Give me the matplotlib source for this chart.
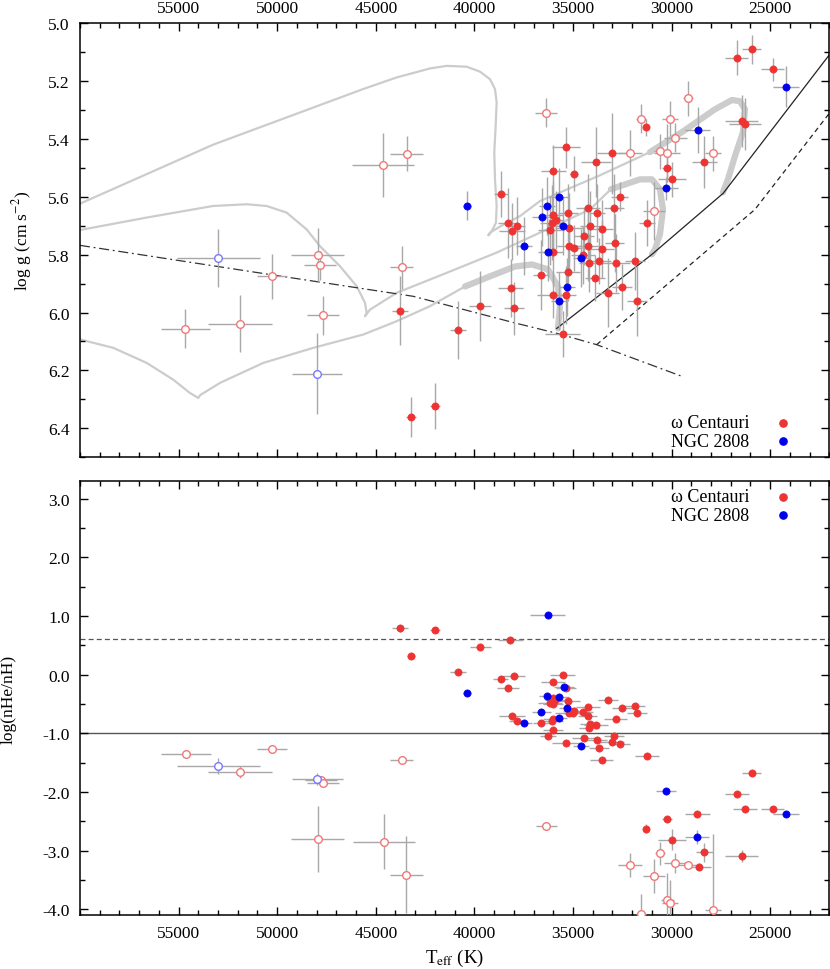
import matplotlib
matplotlib.use("Agg")
import matplotlib.pyplot as plt
from matplotlib.ticker import MultipleLocator, FixedLocator, FormatStrFormatter

plt.rcParams['font.family'] = ['Liberation Serif', 'DejaVu Serif']
plt.rcParams['mathtext.fontset'] = 'stix'
plt.rcParams['font.size'] = 12.5

# ======================================================================
# upper panel : Teff / log g
# omega Cen, filled
wc_teff_g = [26700, 25940, 24870, 31310, 26450, 26280, 35350, 33010, 28340, 33820,
             36000, 34950, 30220, 29960, 38650, 32630, 35240, 34240, 33780, 32920,
             36030, 35880, 36080, 38310, 37840, 38080, 35200, 34120, 33550, 31260,
             36170, 34440, 35190, 34950, 34260, 32890, 33530, 36000, 34480, 34170,
             33670, 32820, 31860, 36640, 35240, 33870, 38160, 32500, 33240, 36010,
             35360, 31760, 39700, 37980, 35520, 40820, 41980, 43220, 43770]
wc_logg = [5.12, 5.09, 5.16, 5.36, 5.34, 5.35, 5.43, 5.45, 5.48, 5.48,
           5.51, 5.52, 5.50, 5.54, 5.59, 5.60, 5.655, 5.64, 5.655, 5.64,
           5.664, 5.68, 5.69, 5.69, 5.70, 5.72, 5.707, 5.70, 5.712, 5.69,
           5.716, 5.736, 5.769, 5.776, 5.771, 5.761, 5.782, 5.79, 5.80, 5.83,
           5.822, 5.83, 5.822, 5.87, 5.861, 5.881, 5.916, 5.911, 5.931, 5.939,
           5.941, 5.961, 5.977, 5.986, 6.073, 6.061, 6.322, 6.361, 5.993]
wc_dteff_g = [590, 500, 590, 150, 830, 830, 710, 790, 640, 770,
              630, 200, 250, 710, 350, 420, 500, 600, 400, 500,
              500, 400, 600, 500, 400, 650, 700, 500, 600, 400,
              600, 500, 600, 400, 700, 500, 600, 500, 600, 500,
              600, 700, 500, 400, 600, 500, 650, 500, 600, 800,
              500, 500, 560, 500, 900, 420, 250, 250, 420]
wc_dlogg = [0.06, 0.05, 0.04, 0.03, 0.09, 0.09, 0.07, 0.14, 0.09, 0.12,
            0.09, 0.06, 0.05, 0.06, 0.08, 0.05, 0.10, 0.12, 0.10, 0.12,
            0.12, 0.10, 0.13, 0.12, 0.10, 0.10, 0.12, 0.12, 0.10, 0.08,
            0.12, 0.10, 0.10, 0.08, 0.12, 0.10, 0.10, 0.12, 0.10, 0.10,
            0.08, 0.10, 0.10, 0.12, 0.10, 0.08, 0.10, 0.08, 0.12, 0.08,
            0.10, 0.12, 0.12, 0.09, 0.08, 0.10, 0.08, 0.07, 0.12]

# omega Cen, open
wco_teff_g = [44620, 43430, 50260, 47950, 47830, 43690, 54660, 51890, 47680, 36370,
              31550, 30080, 29150, 29810, 32110, 30600, 30220, 27890, 30910]
wco_logg = [5.49, 5.451, 5.875, 5.80, 5.836, 5.844, 6.056, 6.038, 6.01, 5.31,
            5.33, 5.33, 5.26, 5.397, 5.45, 5.443, 5.45, 5.45, 5.65]
wco_dteff_g = [1570, 845, 780, 1350, 810, 590, 1250, 1630, 810, 540,
               250, 420, 250, 590, 590, 300, 670, 420, 560]
wco_dlogg = [0.11, 0.06, 0.078, 0.093, 0.05, 0.075, 0.068, 0.10, 0.066, 0.05,
             0.05, 0.06, 0.06, 0.05, 0.08, 0.06, 0.10, 0.06, 0.10]

# NGC 2808, filled
n28_teff_g = [24200, 28680, 30280, 35700, 40390, 36300, 36590, 35490, 37490, 36270,
              34580, 35290, 35700]
n28_logg = [5.22, 5.37, 5.571, 5.60, 5.631, 5.631, 5.671, 5.70, 5.771, 5.791,
            5.812, 5.912, 5.961]
n28_dteff_g = [680, 620, 590, 500, 200, 400, 500, 400, 400, 500, 400, 400, 400]
n28_dlogg = [0.07, 0.08, 0.04, 0.10, 0.05, 0.10, 0.10, 0.10, 0.10, 0.10, 0.10, 0.10, 0.10]

# NGC 2808, open
n28o_teff_g = [52990, 47980]
n28o_logg = [5.811, 6.211]
n28o_dteff_g = [2110, 1290]
n28o_dlogg = [0.10, 0.14]

# ======================================================================
# lower panel : Teff / log(nHe/nH)
wc_teff_he = [41980, 38180, 39700, 43770, 43200, 40820, 38650, 37990, 38310, 35520,
              36010, 35355, 33240, 32500, 31860, 31770, 38080, 36030, 35900, 36170,
              36000, 35240, 34930, 34980, 35200, 34480, 34230, 34260, 37840, 36640,
              36080, 36000, 32840, 34120, 33830, 34170, 36030, 36270, 34460, 33780,
              32920, 33010, 32630, 35355, 33670, 33545, 31250, 25940, 26680, 26280,
              24870, 28700, 30220, 31310, 29960, 28340, 26450, 28600]
wc_he = [0.767, 0.59, 0.477, 0.794, 0.317, 0.045, -0.08, -0.023, -0.22, 0.0,
         -0.119, -0.222, -0.426, -0.563, -0.54, -0.654, -0.70, -0.404, -0.432, -0.477,
         -0.494, -0.45, -0.614, -0.659, -0.659, -0.63, -0.552, -0.71, -0.796, -0.83,
         -0.79, -0.75, -0.762, -0.847, -0.864, -0.91, -0.949, -1.046, -1.085, -1.115,
         -1.046, -1.142, -1.176, -1.159, -1.256, -1.449, -1.392, -1.677, -2.04, -2.29,
         -2.296, -2.37, -2.466, -2.625, -2.819, -3.03, -3.097, -3.279]
wc_dteff_he = [250, 630, 530, 420, 200, 420, 380, 550, 550, 630,
               600, 500, 500, 500, 500, 500, 650, 400, 500, 600,
               500, 600, 600, 500, 700, 500, 600, 500, 400, 400,
               600, 500, 600, 500, 600, 500, 500, 400, 600, 500,
               500, 600, 500, 700, 500, 600, 600, 500, 590, 600,
               590, 640, 250, 150, 710, 420, 830, 600]
wc_dhe = [0.05, 0.03, 0.03, 0.06, 0.03, 0.03, 0.03, 0.05, 0.03, 0.03,
          0.05, 0.03, 0.03, 0.03, 0.03, 0.03, 0.03, 0.03, 0.03, 0.03,
          0.03, 0.03, 0.03, 0.03, 0.03, 0.03, 0.03, 0.03, 0.03, 0.03,
          0.03, 0.03, 0.03, 0.03, 0.03, 0.03, 0.03, 0.03, 0.03, 0.03,
          0.05, 0.03, 0.03, 0.03, 0.03, 0.03, 0.03, 0.03, 0.05, 0.05,
          0.03, 0.05, 0.05, 0.07, 0.18, 0.16, 0.10, 0.06]

wco_teff_he = [54640, 51900, 50260, 47800, 47690, 43690, 47950, 44600, 43450, 36350,
               30600, 32110, 29810, 29150, 30910, 30220, 30080, 31550, 27890]
wco_he = [-1.358, -1.654, -1.273, -1.80, -1.85, -1.449, -2.80, -2.846, -3.409, -2.58,
          -3.046, -3.25, -3.22, -3.245, -3.432, -3.84, -3.898, -4.085, -4.01]
wco_dteff_he = [1270, 1630, 780, 810, 810, 590, 1350, 1570, 845, 530,
                250, 590, 590, 500, 560, 330, 420, 250, 420]
wco_dhe = [0.05, 0.10, 0.05, 0.08, 0.05, 0.05, 0.56, 0.47, 0.65, 0.07,
           0.20, 0.21, 0.17, 0.07, 0.29, 0.45, 0.40, 0.35, 1.30]

n28_teff_he = [36280, 40390, 36300, 35700, 35470, 35290, 36600, 37490, 35700, 34580,
               30280, 24200, 28700]
n28_he = [1.016, -0.307, -0.364, -0.382, -0.211, -0.574, -0.643, -0.818, -0.739, -1.216,
          -1.989, -2.37, -2.767]
n28_dteff_he = [900, 200, 400, 500, 500, 400, 500, 400, 400, 400, 500, 680, 620]
n28_dhe = [0.03, 0.03, 0.05, 0.05, 0.05, 0.05, 0.05, 0.05, 0.05, 0.05, 0.05, 0.05, 0.12]

n28o_teff_he = [52990, 47970]
n28o_he = [-1.557, -1.785]
n28o_dteff_he = [2110, 1290]
n28o_dhe = [0.14, 0.10]

# ======================================================================
# model tracks (upper panel)
trkA_teff = [60000, 53240, 48169, 45634, 43940, 42251, 41405, 40390,
             39716, 39209, 38955, 38870, 38920, 38990, 38955, 38870, 38905, 39123,
             39295, 39209, 38702, 37688, 36673, 33631, 31095]
trkA_logg = [5.624, 5.420, 5.292, 5.228, 5.188, 5.157, 5.148, 5.151,
             5.168, 5.194, 5.228, 5.274, 5.355, 5.447, 5.540, 5.632, 5.690, 5.719,
             5.734, 5.724, 5.703, 5.667, 5.615, 5.526, 5.446]
hook1_teff = [31095, 29472, 27799, 26937, 26531, 26278, 26379, 26785, 27140, 27394]
hook1_logg = [5.446, 5.377, 5.298, 5.266, 5.270, 5.298, 5.377, 5.460, 5.540, 5.585]

trkB_teff = [60000, 56618, 53256, 51547, 50533, 49518, 48504, 47830, 46815, 45969,
             45548, 45462, 45548, 45294, 43940, 41405, 38870, 36673, 34138, 33073]
trkB_logg = [5.715, 5.672, 5.632, 5.626, 5.632, 5.655, 5.713, 5.771, 5.840, 5.909,
             5.966, 6.001, 6.013, 5.990, 5.932, 5.863, 5.793, 5.724, 5.644, 5.574]
hook2_teff = [33073, 31602, 30994, 30588, 30436, 30588, 30842, 30994]
hook2_logg = [5.574, 5.540, 5.540, 5.574, 5.644, 5.730, 5.782, 5.799]

trkC_teff = [60000, 58311, 56618, 55269, 54422, 54001, 53900, 52901, 50705, 48169,
             45634, 43940, 42251, 40476]
trkC_logg = [6.093, 6.122, 6.174, 6.232, 6.278, 6.295, 6.285, 6.243, 6.174, 6.122,
             6.076, 6.030, 5.978, 5.910]
hook3_teff = [40476, 39209, 37941, 37079, 36268, 35761, 35659, 35761]
hook3_logg = [5.910, 5.875, 5.841, 5.834, 5.851, 5.910, 5.979, 6.055]

zahb_teff = [60000, 49858, 43098, 37941, 35745, 33799, 29488]
zahb_logg = [5.768, 5.874, 5.944, 6.036, 6.073, 6.111, 6.220]
solid_teff = [35826, 31009, 27379, 21967]
solid_logg = [6.055, 5.800, 5.588, 5.107]
dash_teff = [33799, 25771, 21967]
dash_logg = [6.111, 5.644, 5.309]

he_solar = -1.0
he_limit = 0.602

teff_ticks = [55000, 50000, 45000, 40000, 35000, 30000, 25000]

RED = '#ee3333'
RED_O = '#f07878'
BLUE = '#0000f0'
BLUE_O = '#7878ff'
EBAR = '#a8a8a8'
TRACK = '#cccccc'


def draw_set(ax, x, y, dx, dy, color, open_marker):
    ax.errorbar(x, y, xerr=dx, yerr=dy, fmt='none', ecolor=EBAR, elinewidth=1.0,
                capsize=0, zorder=3)
    if open_marker:
        ax.plot(x, y, 'o', ls='none', ms=5.5, mfc='white', mec=color, mew=1.0, zorder=4)
    else:
        ax.plot(x, y, 'o', ls='none', ms=5.2, mfc=color, mec=color, mew=0.5, zorder=4)


def style_axis(ax):
    ax.set_xlim(60000, 22000)
    ax.xaxis.set_major_locator(FixedLocator(teff_ticks))
    ax.xaxis.set_minor_locator(MultipleLocator(1000))
    ax.tick_params(which='both', direction='in', top=True, right=True, labelsize=12.5)
    ax.tick_params(which='major', length=6, width=1)
    ax.tick_params(which='minor', length=3.5, width=1)
    ax.tick_params(axis='y', pad=7.5)
    for s in ax.spines.values():
        s.set_linewidth(1.1)


def key(ax, y0, y1):
    # gnuplot-like key: text first, symbol on the right
    ax.text(0.789, y0, 'ω Centauri', transform=ax.transAxes, fontsize=13, va='center')
    ax.text(0.789, y1, 'NGC 2808', transform=ax.transAxes, fontsize=13, va='center')
    ax.plot([0.938], [y0], 'o', ms=5.2, color=RED, transform=ax.transAxes, clip_on=False)
    ax.plot([0.938], [y1], 'o', ms=5.2, color=BLUE, transform=ax.transAxes, clip_on=False)


fig = plt.figure(figsize=(8.3, 9.7), dpi=100)
ax1 = fig.add_axes([80 / 830, 1 - 458.3 / 970, 749.3 / 830, 434.3 / 970])
ax2 = fig.add_axes([80 / 830, 1 - 916 / 970, 749.3 / 830, 433.7 / 970])

# ---------------- upper
ax1.plot(trkA_teff, trkA_logg, color=TRACK, lw=1.6, zorder=1)
ax1.plot(trkB_teff, trkB_logg, color=TRACK, lw=1.6, zorder=1)
ax1.plot(trkC_teff, trkC_logg, color=TRACK, lw=1.6, zorder=1)
ax1.plot(hook1_teff, hook1_logg, color=TRACK, lw=4.5, solid_capstyle='round', zorder=1)
ax1.plot(hook2_teff, hook2_logg, color=TRACK, lw=4.5, solid_capstyle='round', zorder=1)
ax1.plot(hook3_teff, hook3_logg, color=TRACK, lw=4.5, solid_capstyle='round', zorder=1)
ax1.plot(zahb_teff, zahb_logg, color='#333333', lw=0.9, ls=(0, (8, 3, 1.5, 3)), zorder=2)
ax1.plot(solid_teff, solid_logg, color='#222222', lw=0.9, zorder=2)
ax1.plot(dash_teff, dash_logg, color='#222222', lw=0.9, ls=(0, (4, 3)), zorder=2)

draw_set(ax1, wco_teff_g, wco_logg, wco_dteff_g, wco_dlogg, RED_O, True)
draw_set(ax1, n28o_teff_g, n28o_logg, n28o_dteff_g, n28o_dlogg, BLUE_O, True)
draw_set(ax1, wc_teff_g, wc_logg, wc_dteff_g, wc_dlogg, RED, False)
draw_set(ax1, n28_teff_g, n28_logg, n28_dteff_g, n28_dlogg, BLUE, False)

style_axis(ax1)
ax1.set_ylim(6.5, 5.0)
ax1.yaxis.set_major_locator(MultipleLocator(0.2))
ax1.yaxis.set_minor_locator(MultipleLocator(0.1))
ax1.yaxis.set_major_formatter(FormatStrFormatter('%.1f'))
ax1.tick_params(axis='x', labeltop=True, labelbottom=False, pad=5)
ax1.set_ylabel('log g (cm s$^{-2}$)', fontsize=12.5)
ax1.yaxis.set_label_coords(-0.062, 0.5)
key(ax1, 0.079, 0.0375)

# ---------------- lower
ax2.axhline(he_limit, color='#555555', lw=0.9, ls=(0, (4, 2.5)), zorder=1)
ax2.axhline(he_solar, color='#555555', lw=1.0, zorder=1)

draw_set(ax2, wco_teff_he, wco_he, wco_dteff_he, wco_dhe, RED_O, True)
draw_set(ax2, n28o_teff_he, n28o_he, n28o_dteff_he, n28o_dhe, BLUE_O, True)
draw_set(ax2, wc_teff_he, wc_he, wc_dteff_he, wc_dhe, RED, False)
draw_set(ax2, n28_teff_he, n28_he, n28_dteff_he, n28_dhe, BLUE, False)

style_axis(ax2)
ax2.set_ylim(-4.1, 3.3)
ax2.yaxis.set_major_locator(MultipleLocator(1.0))
ax2.yaxis.set_minor_locator(MultipleLocator(0.5))
ax2.yaxis.set_major_formatter(FormatStrFormatter('%.1f'))
ax2.tick_params(axis='x', pad=7)
ax2.set_ylabel('log(nHe/nH)', fontsize=12.5)
ax2.yaxis.set_label_coords(-0.085, 0.5)
ax2.set_xlabel('T$_{\\rm eff}$ (K)', fontsize=13.5)
ax2.xaxis.set_label_coords(0.5, -0.074)
key(ax2, 0.964, 0.922)

fig.savefig('out.png', dpi=100)
